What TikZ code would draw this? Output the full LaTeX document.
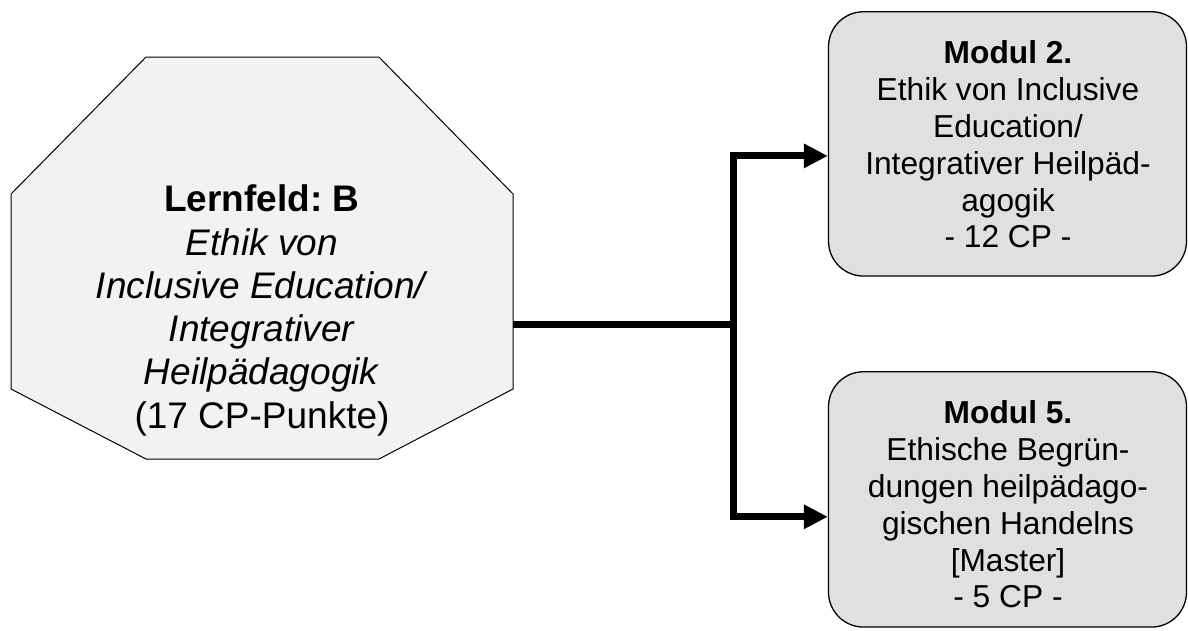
\documentclass[tikz,border=0pt]{standalone}
\usepackage{fontspec}
\setmainfont{Liberation Sans}
\usetikzlibrary{arrows.meta,calc}
\frenchspacing
\definecolor{octfill}{HTML}{F2F2F2}
\definecolor{boxfill}{HTML}{E0E0E0}
\tikzset{
  octagon/.style={draw=black, line width=1pt, fill=octfill},
  modbox/.style={draw=black, line width=1.3pt, fill=boxfill, rounded corners=35pt,
                 minimum width=358pt, inner sep=0pt},
  modtext/.style={align=center, inner sep=0pt, font=\fontsize{31.7}{36.8}\selectfont},
  lftext/.style={align=center, inner sep=0pt, font=\fontsize{37}{43.3}\selectfont},
  link/.style={line width=7pt},
  linkarrow/.style={line width=7pt, -{Triangle[length=24pt,width=23pt]}},
}
\begin{document}
\begin{tikzpicture}[x=1pt,y=-1pt]
\useasboundingbox (0,0) rectangle (1188,630);

% learning field: octagon with its title
\draw[octagon] (146,57) -- (379,57) -- (513,194) -- (513,389) -- (379,459)
  -- (146,459) -- (11,389) -- (11,194) -- cycle;
\node[lftext] (lf) at (262,311.3) {%
  \strut\textbf{Lernfeld: B}\\
  \strut\textit{Ethik von}\\
  \strut\textit{Inclusive Education/}\\
  \strut\textit{Integrativer}\\
  \strut\textit{Heilpädagogik}\\
  \strut(17 CP-Punkte)};

% modules
\node[modbox, minimum height=264.3pt] (m2) at (1007.5,143.9) {};
\node[modtext] (m2t) at (1008,148.6) {%
  \strut\textbf{Modul 2.}\\
  \strut Ethik von Inclusive\\
  \strut Education/\\
  \strut Integrativer Heilpäd-\\
  \strut agogik\\
  \strut - 12 CP -};

\node[modbox, minimum height=255.3pt] (m5) at (1007.5,499.4) {};
\node[modtext] (m5t) at (1008,508.6) {%
  \strut\textbf{Modul 5.}\\
  \strut Ethische Begrün-\\
  \strut dungen heilpädago-\\
  \strut gischen Handelns\\
  \strut [Master]\\
  \strut - 5 CP -};

% connectors
\coordinate (octR) at (513,324);
\coordinate (split) at (733,324);
\draw[link] (octR) -- (split);
\draw[linkarrow] (split) |- ($(m2.west)+(0,12)$);
\draw[linkarrow] (split) |- ($(m5.west)+(0,17.4)$);
\end{tikzpicture}
\end{document}
